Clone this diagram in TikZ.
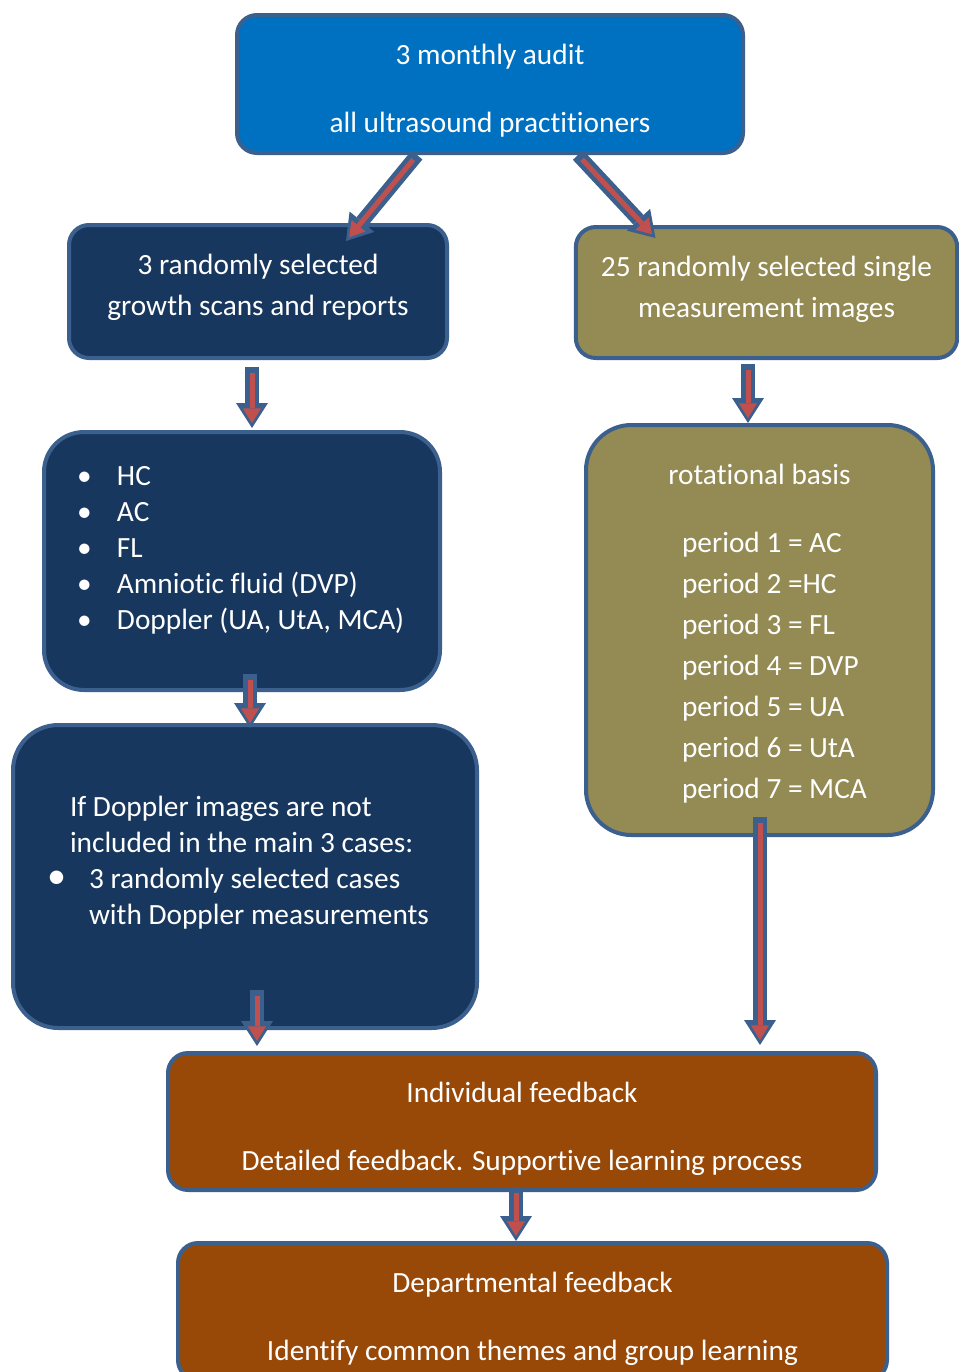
\documentclass[tikz,border=0pt]{standalone}
\usepackage{fontspec}
\setmainfont{Carlito}[Ligatures=NoCommon]
\usepackage{graphicx}
\usetikzlibrary{arrows.meta,positioning,calc}
\definecolor{auditblue}{RGB}{0,112,192}
\definecolor{edgeblue}{RGB}{60,96,142}
\definecolor{scannavy}{RGB}{23,55,94}
\definecolor{imgolive}{RGB}{148,138,84}
\definecolor{fbbrown}{RGB}{152,72,7}
\definecolor{arrred}{RGB}{192,80,77}
\newcommand{\blt}{\makebox[30pt][l]{\textbullet}}

\begin{document}
\begin{tikzpicture}[x=0.75pt, y=-0.75pt, font=\fontsize{22}{30.75}\selectfont, box/.style={draw=edgeblue, line width=3pt, rounded corners=15pt, text=white, align=center, inner sep=0pt, text height=0pt, text depth=0pt}, blk/.style={-{Triangle[length=11pt,width=13.5pt,line width=0pt]}, draw=arrred, line width=3.75pt, shorten <=4.5pt, shorten >=3.75pt, preaction={draw=edgeblue, line width=10.5pt, shorten <=0pt, shorten >=0pt, -{Triangle[length=18.75pt,width=24pt,line width=0pt]}}}]
\useasboundingbox (0,0) rectangle (958,1372);
\node[box, fill=auditblue, minimum width=379.5pt, minimum height=103.5pt, text height=72pt] (audit) at (490,84) {3 monthly audit\\[20.25pt]all ultrasound practitioners};
\node[box, fill=scannavy, minimum width=283.5pt, minimum height=99.75pt, text height=35.25pt] (scans) at (258,291.5) {3 randomly selected\\growth scans and reports};
\node[box, fill=imgolive, minimum width=286pt, minimum height=98.25pt, text height=36.75pt] (single) at (766.5,292.5) {25 randomly selected single\\measurement images};
\node[box, fill=scannavy, rounded corners=30pt, minimum width=297pt, minimum height=193.5pt, text width=247.5pt, align=flush left, font=\fontsize{22}{27}\selectfont, text depth=114pt] (list) at (242,561) {\blt HC\\\blt AC\\\blt FL\\\blt Amniotic fluid (DVP)\\\blt Doppler (UA, UtA, MCA)};
\node[box, fill=imgolive, rounded corners=34pt, minimum width=260.25pt, minimum height=307.5pt, text depth=117pt] (rot) at (759.5,630) {rotational basis\\[20.25pt]\hspace*{22.5pt}\begin{tabular}[t]{@{}l@{}}period 1 = AC\\period 2 =HC\\period 3 = FL\\period 4 = DVP\\period 5 = UA\\period 6 = UtA\\period 7 = MCA\end{tabular}};
\node[box, fill=scannavy, rounded corners=34pt, minimum width=348pt, minimum height=227.25pt, text width=289.5pt, align=flush left, font=\fontsize{22}{27}\selectfont, text depth=90.75pt] (dopp) at (245,876.5) {\hspace*{13.5pt}If Doppler images are not\\\hspace*{13.5pt}included in the main 3 cases:\\\makebox[27.75pt][l]{\hspace*{-3.75pt}\scalebox{1.3}{\textbullet}}3 randomly selected cases\\\hspace*{27.75pt}with Doppler measurements};
\node[box, fill=fbbrown, minimum width=531pt, minimum height=102.75pt, text height=72.75pt] (indiv) at (522,1121.5) {Individual feedback\\[20.25pt]Detailed feedback. Supportive learning process};
\node[box, fill=fbbrown, minimum width=531.75pt, minimum height=102.75pt, text height=72.75pt] (dept) at (532.5,1311.5) {Departmental feedback\\[20.25pt]Identify common themes and group learning};
% block arrows
\draw[blk] ($(audit.south)+(-73,0)$) -- ($(scans.north)+(88,18)$);
\draw[blk] ($(audit.south)+(88,0)$) -- ($(single.north)+(-111,13)$);
\draw[blk] ($(scans.south)+(-6,7)$) -- ($(list.north)+(10,-2)$);
\draw[blk] ($(single.south)+(-18.5,4)$) -- ($(rot.north)+(-11.5,0)$);
\draw[blk] ($(list.south)+(8,-18)$) -- ($(dopp.north)+(5,5)$);
\draw[blk] ($(rot.south)+(0.5,-20)$) -- ($(indiv.north)+(238,-6)$);
\draw[blk] ($(dopp.south)+(12,-40)$) -- ($(indiv.north)+(-265,-5)$);
\draw[blk] ($(indiv.south)+(-6,-5)$) -- ($(dept.north)+(-16.5,0)$);
\end{tikzpicture}
\end{document}
